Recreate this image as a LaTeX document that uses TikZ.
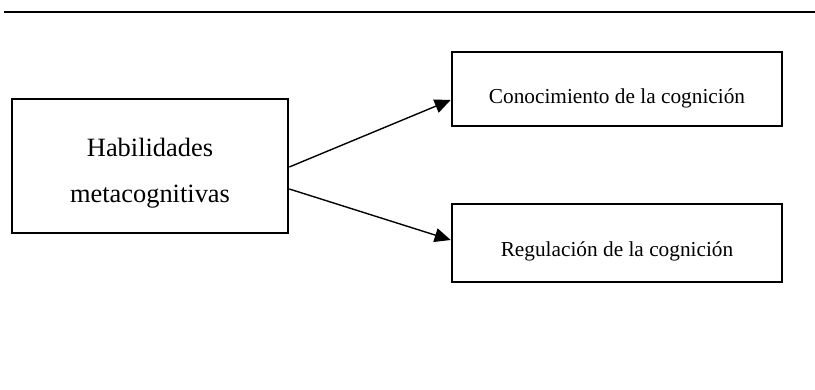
\documentclass[tikz,border=0pt]{standalone}
\usepackage{fontspec}
\setmainfont{Liberation Serif}
\usetikzlibrary{arrows.meta}
\tikzset{
  box/.style={draw=black, line width=2.6pt, inner sep=0pt},
  conn/.style={draw=black, line width=1.4pt, -{Triangle[length=16pt,width=14pt]}},
  bigtext/.style={font=\fontsize{26.4}{46}\selectfont, align=center, inner sep=0pt},
  smalltext/.style={font=\fontsize{21.3}{25}\selectfont, inner sep=0pt, anchor=base},
}
\begin{document}
\begin{tikzpicture}[x=1pt,y=-1pt]
\useasboundingbox (0,0) rectangle (815,390);
\draw[line width=2pt] (4,12) -- (815,12);
\node[box, minimum width=276pt, minimum height=134pt] (L) at (150,166) {};
\node[box, minimum width=330pt, minimum height=74pt] (A) at (617,89) {};
\node[box, minimum width=330pt, minimum height=78pt] (B) at (617,243) {};
\node[bigtext, anchor=base] (Lt1) at (150,157) {Habilidades};
\node[bigtext, anchor=base] (Lt2) at (150,203) {metacognitivas};
\node[smalltext] (At) at (617,104) {Conocimiento de la cognición};
\node[smalltext] (Bt) at (617,257) {Regulación de la cognición};
\draw[conn] ([yshift=-1pt]L.east) -- ([yshift=-11pt]A.west);
\draw[conn] ([yshift=-23pt]L.east) -- ([yshift=3pt]B.west);
\end{tikzpicture}
\end{document}
